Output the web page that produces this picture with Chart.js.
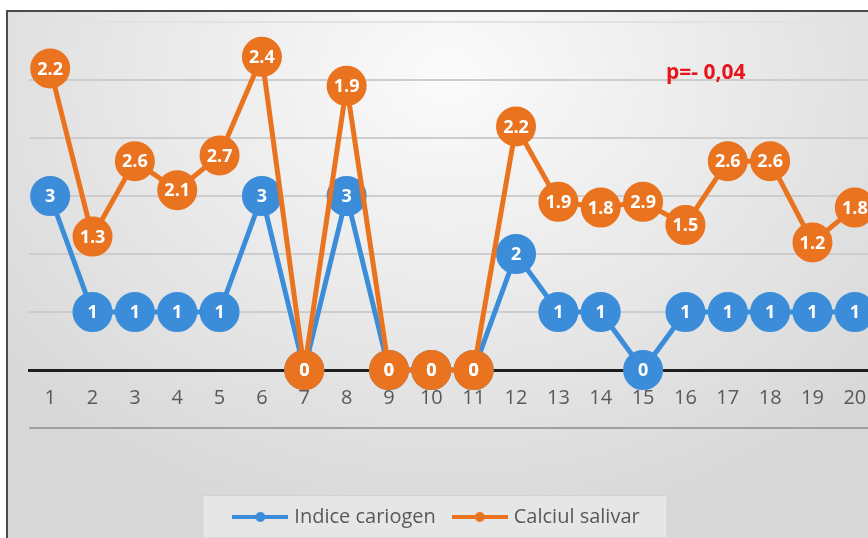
<!DOCTYPE html>
<html>
<head>
<meta charset="utf-8">
<script src="https://cdn.jsdelivr.net/npm/chart.js@4.4.1/dist/chart.umd.min.js"></script>
<style>
  html, body { margin: 0; padding: 0; width: 868px; height: 538px; overflow: hidden; background: #fff; }
  #frame {
    position: absolute; left: 6px; top: 10px; width: 880px; height: 540px;
    border-left: 2px solid #4a4a4a; border-top: 2px solid #4a4a4a;
    background: radial-gradient(ellipse 65% 85% at 50% 12%, #fbfbfb 0%, #e8e8e8 55%, #d8d8d8 100%);
  }
  #chart { position: absolute; left: 0; top: 0; }
  #pval {
    position: absolute; left: 666px; top: 57px; line-height: 1;
    font: bold 21px "Open Sans", sans-serif; color: #e8141c;
  }
</style>
</head>
<body>
<div id="frame"></div>
<canvas id="chart" width="880" height="537"></canvas>
<div id="pval">p=- 0,04</div>
<script>
const categories = ['1','2','3','4','5','6','7','8','9','10','11','12','13','14','15','16','17','18','19','20'];
const indiceCariogen = [3, 1, 1, 1, 1, 3, 0, 3, 0, 0, 0, 2, 1, 1, 0, 1, 1, 1, 1, 1];
const calciulSalivar = [2.2, 1.3, 2.6, 2.1, 2.7, 2.4, 0, 1.9, 0, 0, 0, 2.2, 1.9, 1.8, 2.9, 1.5, 2.6, 2.6, 1.2, 1.8];
const seriesNames = ['Indice cariogen', 'Calciul salivar'];

const BLUE = '#3c8dd9';
const ORANGE = '#ea7320';

function legendMarker(color) {
  const c = document.createElement('canvas');
  c.width = 56; c.height = 12;
  const g = c.getContext('2d');
  g.strokeStyle = color; g.lineWidth = 4;
  g.beginPath(); g.moveTo(0, 6); g.lineTo(56, 6); g.stroke();
  g.fillStyle = color;
  g.beginPath(); g.arc(28, 6, 5, 0, Math.PI * 2); g.fill();
  return c;
}
const markers = [legendMarker(BLUE), legendMarker(ORANGE)];

// orange goes on top of blue, and every point gets its value written inside
const pointLabels = {
  id: 'pointLabels',
  beforeDraw(chart) {
    const hb = chart.legend.legendHitBoxes;
    if (!hb || !hb.length) return;
    const ctx = chart.ctx;
    const last = hb[hb.length - 1];
    const left = hb[0].left - 34, right = last.left + last.width + 27;
    const cy = hb[0].top + hb[0].height / 2;
    ctx.save();
    ctx.fillStyle = '#e6e6e6';
    ctx.strokeStyle = '#d2d2d2';
    ctx.lineWidth = 1;
    ctx.fillRect(left, cy - 22, right - left, 43);
    ctx.strokeRect(left + 0.5, cy - 21.5, right - left, 43);
    ctx.restore();
  },
  beforeDatasetDraw(chart, args) {
    if (args.index === 1) return false;
  },
  afterDatasetsDraw(chart) {
    const ctx = chart.ctx;
    const a = chart.chartArea;
    ctx.save();
    ctx.beginPath();
    ctx.rect(a.left, a.top - 20, a.right - a.left, a.bottom - a.top + 20);
    ctx.clip();
    chart.getDatasetMeta(1).controller.draw();
    ctx.restore();

    ctx.save();
    ctx.font = 'bold 18px "Open Sans"';
    ctx.fillStyle = '#fff';
    ctx.textAlign = 'center';
    ctx.textBaseline = 'middle';
    chart.data.datasets.forEach((ds, i) => {
      chart.getDatasetMeta(i).data.forEach((pt, j) => {
        ctx.fillText(String(ds.data[j]), pt.x, pt.y + 1);
      });
    });
    ctx.restore();
  }
};

new Chart(document.getElementById('chart'), {
  type: 'line',
  data: {
    labels: categories,
    datasets: [
      {
        label: seriesNames[0],
        data: indiceCariogen,
        borderColor: BLUE,
        backgroundColor: BLUE,
        borderWidth: 5,
        pointRadius: 19,
        pointBorderWidth: 2,
        pointBorderColor: BLUE,
        pointBackgroundColor: BLUE,
        tension: 0
      },
      {
        label: seriesNames[1],
        data: calciulSalivar,
        borderColor: ORANGE,
        backgroundColor: ORANGE,
        borderWidth: 5,
        pointRadius: 19,
        pointBorderWidth: 2,
        pointBorderColor: ORANGE,
        pointBackgroundColor: ORANGE,
        tension: 0
      }
    ]
  },
  options: {
    responsive: false,
    animation: false,
    events: [],
    layout: { autoPadding: false, padding: { left: 0, top: 22, right: 4, bottom: 0 } },
    scales: {
      x: {
        position: { y: 0 },
        offset: true,
        grid: { display: false, drawTicks: false },
        border: { display: true, color: '#1e1e1e', width: 3 },
        ticks: {
          color: '#595959',
          font: { family: '"Open Sans"', size: 20 },
          padding: 16,
          maxRotation: 0,
          autoSkip: false
        },
        afterFit: s => { s.paddingLeft = 0; s.paddingRight = 0; }
      },
      x2: {
        type: 'category',
        position: 'bottom',
        offset: true,
        grid: { display: false, drawTicks: false },
        border: { display: false },
        ticks: { display: false, font: { size: 1 } },
        afterFit: s => { s.height = 59; s.paddingLeft = 0; s.paddingRight = 0; }
      },
      y: {
        stacked: true,
        min: -1,
        max: 6,
        ticks: { display: false, stepSize: 1 },
        border: { display: false },
        grid: {
          drawTicks: false,
          lineWidth: 2,
          color: c => {
            const v = c.tick.value;
            if (v === 0) return 'rgba(0,0,0,0)';
            if (v === -1) return '#a0a0a0';
            if (v === 6) return '#e2e2e2';
            return '#cdcdcd';
          }
        },
        afterFit: s => { s.width = 29; }
      }
    },
    plugins: {
      tooltip: { enabled: false },
      legend: {
        position: 'bottom',
        labels: {
          color: '#595959',
          font: { family: '"Open Sans"', size: 20 },
          usePointStyle: true,
          pointStyleWidth: 48,
          padding: 20,
          generateLabels(chart) {
            const items = Chart.defaults.plugins.legend.labels.generateLabels(chart);
            items.forEach((it, i) => { it.pointStyle = markers[it.datasetIndex]; });
            return items;
          }
        }
      }
    }
  },
  plugins: [pointLabels]
});
</script>
</body>
</html>
